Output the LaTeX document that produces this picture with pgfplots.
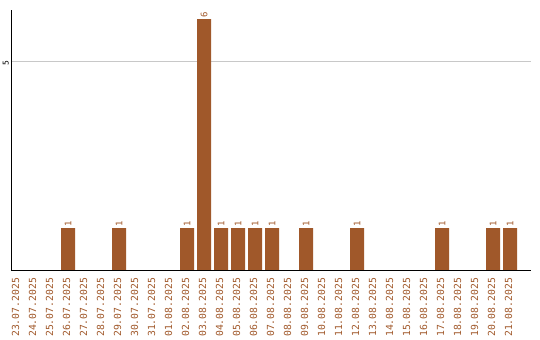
\documentclass[border=0pt]{standalone}
\usepackage{pgfplots}
\pgfplotsset{compat=1.18}
\usepackage{fontspec}
\setmainfont{DejaVu Sans Mono}
\definecolor{barbrown}{HTML}{A0582A}
\definecolor{gridgray}{HTML}{C8C8C8}

\pgfplotstableread{
idx val
3 1
6 1
10 1
11 6
12 1
13 1
14 1
15 1
17 1
20 1
25 1
28 1
29 1
}\counts

\begin{document}
\begin{tikzpicture}
\useasboundingbox (-11bp,-70bp) rectangle (529bp,270bp);
\begin{axis}[
  at={(0,0)}, anchor=south west,
  scale only axis,
  width=520bp, height=260bp,
  xmin=-0.353, xmax=30.235,
  ymin=0, ymax=6.22,
  axis x line=bottom, axis y line=left,
  axis line style={-, black, line width=0.9bp},
  major tick length=0pt,
  ytick={5},
  ymajorgrids,
  grid style={gridgray, line width=0.8bp},
  /pgf/number format/assume math mode=true,
  yticklabel style={rotate=90, anchor=south, font=\fontsize{8}{8}\selectfont, black, xshift=-2bp},
  xtick={0,...,29},
  xticklabels={23.07.2025,24.07.2025,25.07.2025,26.07.2025,27.07.2025,28.07.2025,29.07.2025,30.07.2025,31.07.2025,01.08.2025,02.08.2025,03.08.2025,04.08.2025,05.08.2025,06.08.2025,07.08.2025,08.08.2025,09.08.2025,10.08.2025,11.08.2025,12.08.2025,13.08.2025,14.08.2025,15.08.2025,16.08.2025,17.08.2025,18.08.2025,19.08.2025,20.08.2025,21.08.2025},
  tick label style={inner sep=0pt, outer sep=0pt},
  xticklabel style={rotate=90, anchor=east, font=\fontsize{9.8}{10}\selectfont, text=barbrown, xshift=-8bp},
  typeset ticklabels with strut=false,
]
\addplot[ybar, bar width=14bp, fill=barbrown, draw=none,
  nodes near coords,
  every node near coord/.append style={rotate=90, anchor=west, font=\fontsize{9}{9}\selectfont, text=barbrown, inner sep=1.5bp},
] table[x=idx, y=val] {\counts};
\end{axis}
\end{tikzpicture}
\end{document}
